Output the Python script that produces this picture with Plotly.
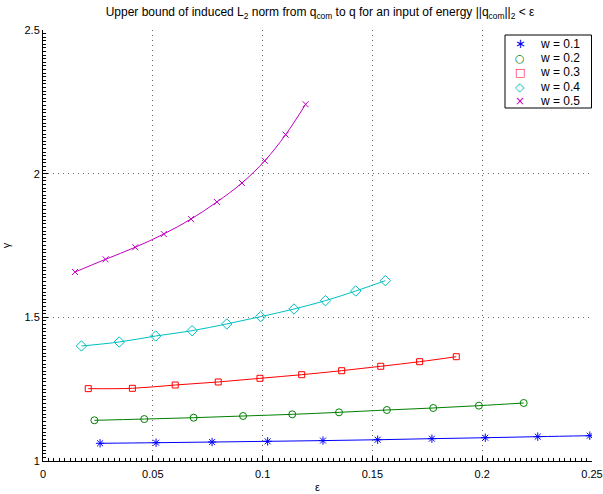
import plotly.graph_objects as go

x_w01 = [0.0260, 0.0515, 0.0770, 0.1023, 0.1275, 0.1524, 0.1771, 0.2014, 0.2253, 0.2490]
y_w01 = [1.0616, 1.0637, 1.0660, 1.0685, 1.0710, 1.0740, 1.0777, 1.0810, 1.0847, 1.0880]

x_w02 = [0.0234, 0.0461, 0.0686, 0.0911, 0.1135, 0.1348, 0.1566, 0.1777, 0.1985, 0.2189]
y_w02 = [1.1416, 1.1460, 1.1507, 1.1566, 1.1624, 1.1694, 1.1775, 1.1845, 1.1926, 1.2019]

x_w03 = [0.0206, 0.0407, 0.0602, 0.0798, 0.0988, 0.1178, 0.1360, 0.1538, 0.1715, 0.1882]
y_w03 = [1.2518, 1.2530, 1.2645, 1.2750, 1.2878, 1.3004, 1.3143, 1.3296, 1.3456, 1.3630]

x_w04 = [0.0175, 0.0347, 0.0513, 0.0679, 0.0837, 0.0991, 0.1143, 0.1286, 0.1424, 0.1559]
y_w04 = [1.4003, 1.4142, 1.4350, 1.4535, 1.4770, 1.5023, 1.5290, 1.5580, 1.5917, 1.6276]

x_w05 = [0.0146, 0.0285, 0.0420, 0.0550, 0.0674, 0.0792, 0.0906, 0.1010, 0.1105, 0.1196]
y_w05 = [1.6578, 1.7020, 1.7438, 1.7900, 1.8420, 1.9015, 1.9676, 2.0450, 2.1358, 2.2415]

names = ["w = 0.1", "w = 0.2", "w = 0.3", "w = 0.4", "w = 0.5"]
colors = ["#0000ff", "#008000", "#ff0000", "#00bfbf", "#bf00bf"]
symbols = ["asterisk-open", "circle-open", "square-open", "diamond-open", "x-thin-open"]
legend_glyphs = ["∗", "○", "□", "◇", "×"]
sizes = [7, 7, 6, 8, 6]
xs = [x_w01, x_w02, x_w03, x_w04, x_w05]
ys = [y_w01, y_w02, y_w03, y_w04, y_w05]

fig = go.Figure()
for x, y, c in zip(xs, ys, colors):
    fig.add_trace(go.Scatter(x=x, y=y, mode="lines", line=dict(color=c, width=1, shape="spline"),
                             showlegend=False, hoverinfo="skip"))
for x, y, n, c, s, sz in zip(xs, ys, names, colors, symbols, sizes):
    fig.add_trace(go.Scatter(x=x, y=y, mode="markers", name=n, showlegend=False,
                             marker=dict(symbol=s, size=sz, color=c, line=dict(color=c, width=1))))

font = "Liberation Sans, Arial, sans-serif"

L, R, T, B = 43, 592, 30, 461
W, H = R - L, B - T
def px(xp):
    return (xp - L) / W
def py(yp):
    return (B - yp) / H

fig.add_shape(type="rect", xref="paper", yref="paper",
              x0=px(505), x1=px(591.5), y0=py(108), y1=py(35),
              line=dict(color="black", width=1), fillcolor="white", layer="above")
glyph_sizes = [13, 11, 11, 12, 12]
for i, (n, c, g) in enumerate(zip(names, colors, legend_glyphs)):
    yc = py(44 + i * 14.2)
    fig.add_annotation(xref="paper", yref="paper", x=px(520), y=yc, text=g, showarrow=False,
                       xanchor="center", yanchor="middle",
                       font=dict(family="DejaVu Sans", size=glyph_sizes[i], color=c))
    fig.add_annotation(xref="paper", yref="paper", x=px(538), y=yc, text=n, showarrow=False,
                       xanchor="left", yanchor="middle", font=dict(family=font, size=12, color="black"))

fig.update_layout(
    width=603, height=494,
    margin=dict(l=L, r=603 - R, t=T, b=494 - B),
    paper_bgcolor="white", plot_bgcolor="white",
    font=dict(family=font, size=11, color="black"),
    title=dict(text="Upper bound of induced L<sub>2</sub> norm from q<sub>com</sub> to q for an input of energy ||q<sub>com</sub>||<sub>2</sub> &lt; ε",
               x=320 / 603, xanchor="center", yref="container", y=1 - 12 / 494, yanchor="middle",
               font=dict(size=12)),
    showlegend=False,
)
grid_color = "rgba(0,0,0,0.6)"
fig.update_xaxes(range=[0, 0.25], tick0=0, dtick=0.05, automargin=False,
                 showgrid=True, gridcolor=grid_color, griddash="1px,4px", gridwidth=1,
                 showline=True, linecolor="black", linewidth=1, mirror=False,
                 ticks="inside", ticklen=5, tickcolor="black", zeroline=False,
                 ticklabelstandoff=3,
                 minor=dict(dtick=0.0025, ticks="inside", ticklen=3, tickcolor="black", showgrid=False),
                 title=dict(text="ε", font=dict(size=11), standoff=4))
fig.update_yaxes(range=[1, 2.5], tick0=1, dtick=0.5, automargin=False,
                 showgrid=True, gridcolor=grid_color, griddash="1px,4px", gridwidth=1,
                 showline=True, linecolor="black", linewidth=1, mirror=False,
                 ticks="inside", ticklen=5, tickcolor="black", zeroline=False,
                 minor=dict(dtick=0.0125, ticks="inside", ticklen=3, tickcolor="black", showgrid=False),
                 title=dict(text="γ", font=dict(size=11), standoff=12))

fig.write_html("out.html", config={"displayModeBar": False},
               post_script="document.body.style.margin='0';document.body.style.overflow='hidden';")
